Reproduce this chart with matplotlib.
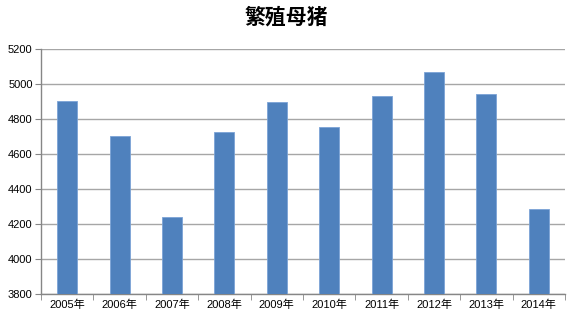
import matplotlib
matplotlib.use("Agg")
import matplotlib.pyplot as plt
import numpy as np

plt.rcParams['font.family'] = ['Liberation Sans', 'Noto Sans CJK SC', 'DejaVu Sans']

title = "繁殖母猪"
categories = ["2005年", "2006年", "2007年", "2008年", "2009年",
              "2010年", "2011年", "2012年", "2013年", "2014年"]
values = [4899, 4703, 4237, 4726, 4894, 4753, 4928, 5069, 4943, 4286]
yticks = [3800, 4000, 4200, 4400, 4600, 4800, 5000, 5200]

W, H = 574, 313
fig = plt.figure(figsize=(W / 100, H / 100), dpi=100)
ax = fig.add_axes([41 / W, 1 - 293.7 / H, (565 - 41) / W, (293.7 - 48.7) / H])

x = np.arange(len(categories))
ax.bar(x, values, width=0.38, color='#4F81BD', edgecolor='#7BA3D6', linewidth=0.6,
       zorder=3)
ax.set_xlim(-0.5, len(categories) - 0.5)
ax.set_ylim(3800, 5200)
ax.set_yticks(yticks)
ax.set_yticklabels([str(v) for v in yticks], fontsize=8)
ax.yaxis.grid(True, color='#A6A6A6', linewidth=1.0, zorder=0)
ax.set_axisbelow(True)

ax.set_xticks(x)
ax.set_xticklabels(categories, fontsize=8)
ax.set_xticks(np.arange(-0.5, len(categories)), minor=True)
ax.tick_params(axis='x', which='major', length=0, pad=4)
ax.tick_params(axis='x', which='minor', length=4, color='#868686', direction='out')
ax.tick_params(axis='y', length=4, color='#868686', direction='out', pad=2)

for s in ['top', 'right']:
    ax.spines[s].set_visible(False)
for s in ['left', 'bottom']:
    ax.spines[s].set_color('#868686')
    ax.spines[s].set_linewidth(1.0)

fig.text(286 / W, 1 - 17 / H, title, ha='center', va='center', fontsize=15,
         fontweight='bold', family=['Noto Sans CJK SC', 'DejaVu Sans'])

fig.savefig("out.png", dpi=100)
